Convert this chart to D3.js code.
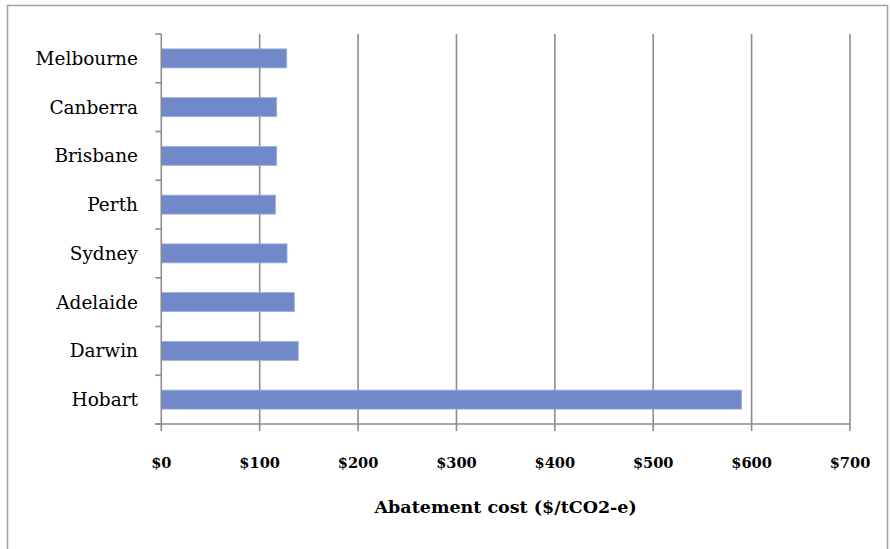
<!DOCTYPE html>
<html>
<head>
<meta charset="utf-8">
<script src="https://cdn.jsdelivr.net/npm/d3@7/dist/d3.min.js"></script>
<style>
  html, body { margin: 0; padding: 0; background: #fff; }
  svg { display: block; }
</style>
</head>
<body>
<svg id="chart" width="890" height="549"></svg>
<script>
// Abatement cost per city, $/tCO2-e (top to bottom)
const cities = ["Melbourne", "Canberra", "Brisbane", "Perth", "Sydney", "Adelaide", "Darwin", "Hobart"];
const costs = [127.5, 117.3, 117.3, 116, 127.8, 135.2, 139.2, 589.8];
const xTicks = [0, 100, 200, 300, 400, 500, 600, 700];
const xTickLabels = ["$0", "$100", "$200", "$300", "$400", "$500", "$600", "$700"];
const axisTitle = "Abatement cost ($/tCO2-e)";

const data = cities.map((c, i) => ({ city: c, cost: costs[i] }));

const svg = d3.select("#chart");
const plot = { left: 161.3, right: 850, top: 34, bottom: 424 };
const gridColor = "#8c8c8c";
const serif = "'DejaVu Serif', 'Liberation Serif', serif";

// chart frame
svg.append("rect")
  .attr("x", 7.5).attr("y", 5.5)
  .attr("width", 880).attr("height", 560)
  .attr("fill", "none").attr("stroke", "#a0a0a0").attr("stroke-width", 1.5);

const x = d3.scaleLinear().domain([0, 700]).range([plot.left, plot.right]);
const y = d3.scaleBand().domain(cities).range([plot.top, plot.bottom]).paddingInner(0.61).paddingOuter(0.305);
const yEdges = d3.scaleBand().domain(cities).range([plot.top, plot.bottom]).padding(0);

// vertical gridlines (extend below the axis as tick marks)
svg.append("g").selectAll("line")
  .data(xTicks.slice(1))
  .join("line")
  .attr("x1", d => x(d)).attr("x2", d => x(d))
  .attr("y1", plot.top).attr("y2", plot.bottom + 7)
  .attr("stroke", gridColor).attr("stroke-width", 1.6);

// bars
svg.append("g").selectAll("rect")
  .data(data)
  .join("rect")
  .attr("x", x(0))
  .attr("y", d => y(d.city))
  .attr("width", d => x(d.cost) - x(0))
  .attr("height", y.bandwidth())
  .attr("fill", "#7189c8")
  .attr("stroke", "#9fb0dc").attr("stroke-width", 0.8);

// left axis with ticks at band boundaries
const yBounds = cities.map(c => yEdges(c)).concat([plot.bottom]);
svg.append("line")
  .attr("x1", x(0)).attr("x2", x(0))
  .attr("y1", plot.top).attr("y2", plot.bottom + 7)
  .attr("stroke", gridColor).attr("stroke-width", 1.6);
svg.append("g").selectAll("line")
  .data(yBounds)
  .join("line")
  .attr("x1", x(0) - 6).attr("x2", x(0))
  .attr("y1", d => d).attr("y2", d => d)
  .attr("stroke", gridColor).attr("stroke-width", 1.6);

// bottom axis line
svg.append("line")
  .attr("x1", x(0) - 6).attr("x2", plot.right)
  .attr("y1", plot.bottom).attr("y2", plot.bottom)
  .attr("stroke", gridColor).attr("stroke-width", 1.6);

// category labels
svg.append("g").selectAll("text")
  .data(cities)
  .join("text")
  .attr("x", 138)
  .attr("y", d => yEdges(d) + yEdges.bandwidth() / 2 + 6.5)
  .attr("text-anchor", "end")
  .attr("font-family", serif)
  .attr("font-size", 18.5)
  .attr("fill", "#000")
  .text(d => d);

// x tick labels
svg.append("g").selectAll("text")
  .data(xTicks)
  .join("text")
  .attr("x", d => x(d))
  .attr("y", 468)
  .attr("text-anchor", "middle")
  .attr("font-family", serif)
  .attr("font-weight", "bold")
  .attr("font-size", 14.6)
  .attr("fill", "#000")
  .text((d, i) => xTickLabels[i]);

// axis title
svg.append("text")
  .attr("x", (plot.left + plot.right) / 2)
  .attr("y", 513)
  .attr("text-anchor", "middle")
  .attr("font-family", serif)
  .attr("font-weight", "bold")
  .attr("font-size", 17.5)
  .attr("fill", "#000")
  .text(axisTitle);
</script>
</body>
</html>
